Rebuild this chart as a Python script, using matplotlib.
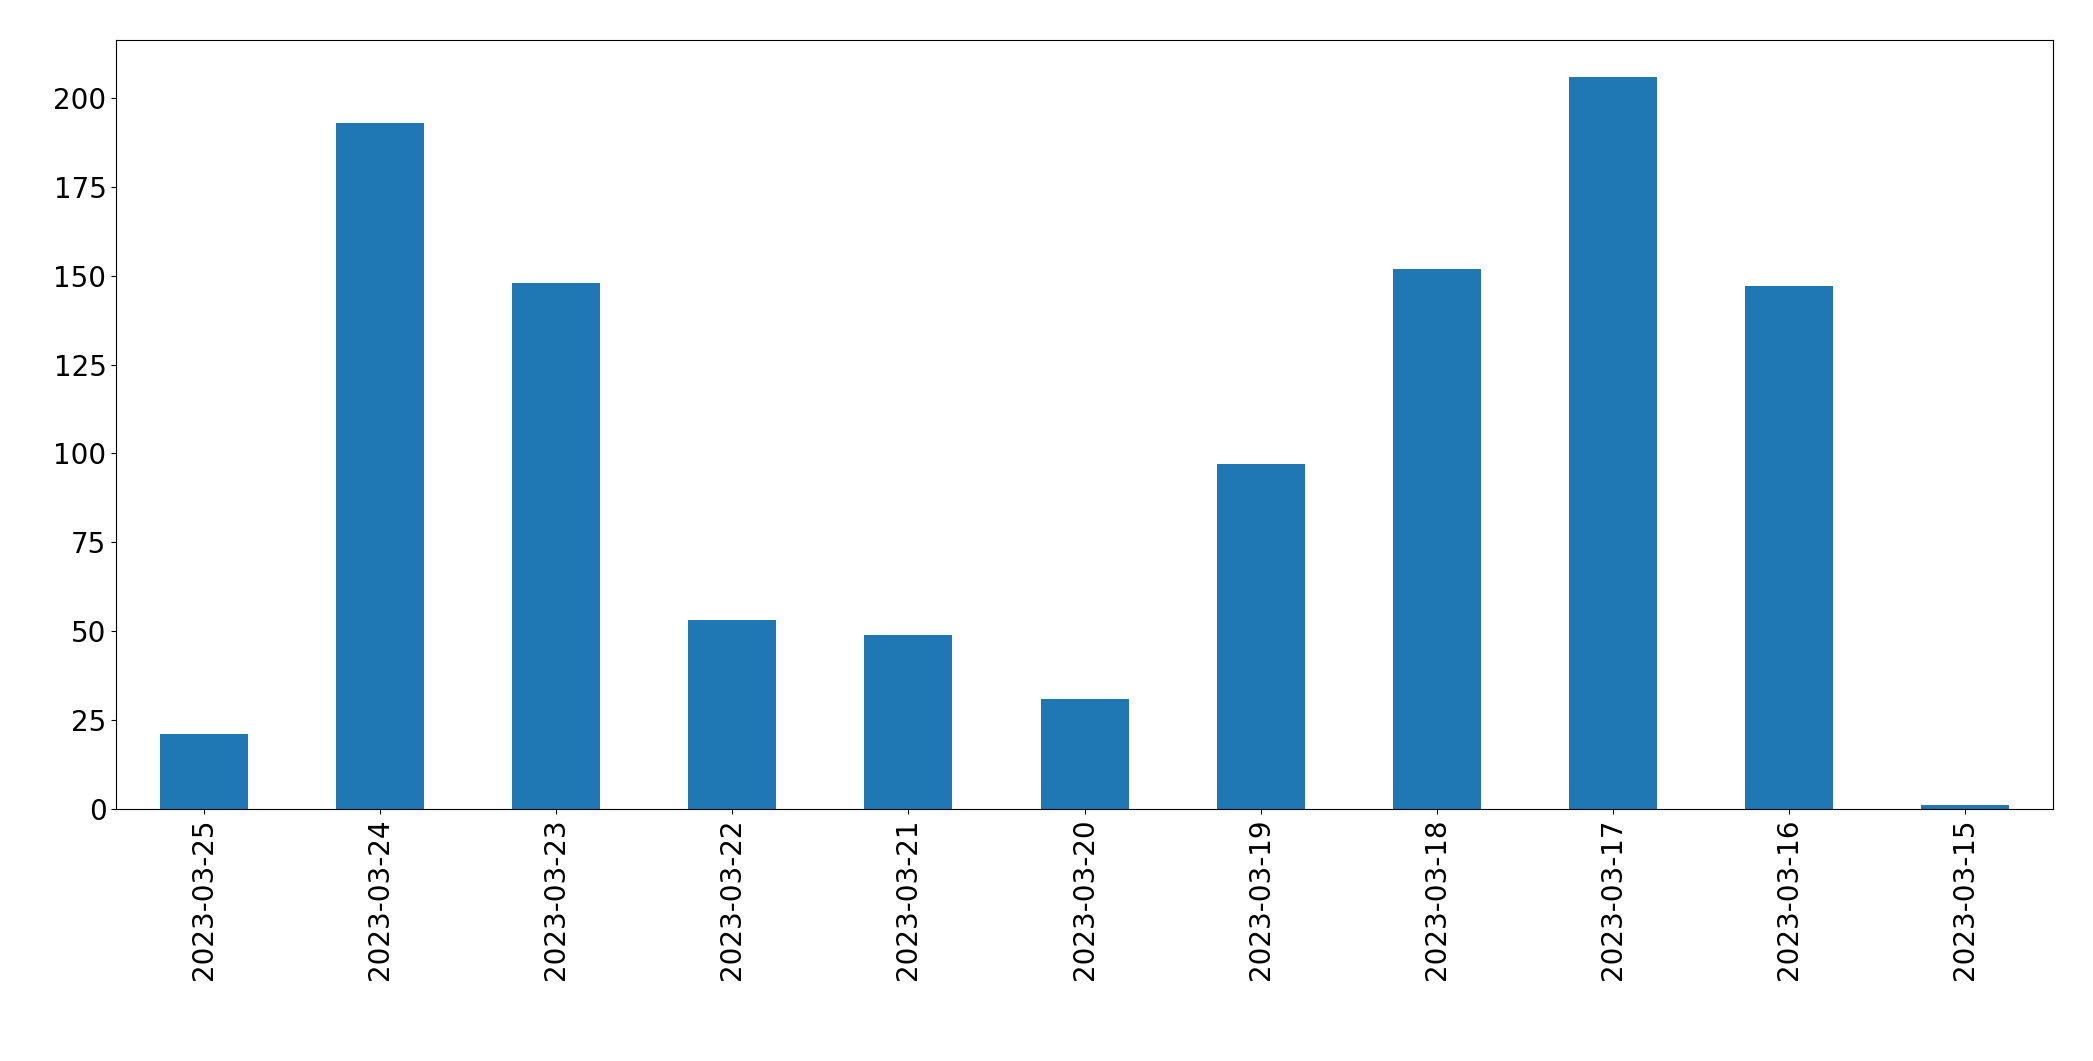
import matplotlib
matplotlib.use("Agg")
import matplotlib.pyplot as plt
import pandas as pd

dates = ["2023-03-25","2023-03-24","2023-03-23","2023-03-22","2023-03-21","2023-03-20",
         "2023-03-19","2023-03-18","2023-03-17","2023-03-16","2023-03-15"]
counts = [21, 193, 148, 53, 49, 31, 97, 152, 206, 147, 1]

fig = plt.figure(figsize=(20.93, 10.61), dpi=100)
ax = fig.add_axes([87/1568, 1-606/795, (1538-87)/1568, (606-30)/795])
pd.Series(counts, index=dates).plot.bar(ax=ax, color="#1f77b4", width=0.5)
ax.tick_params(labelsize=20)
fig.savefig("out.png", dpi=100)
